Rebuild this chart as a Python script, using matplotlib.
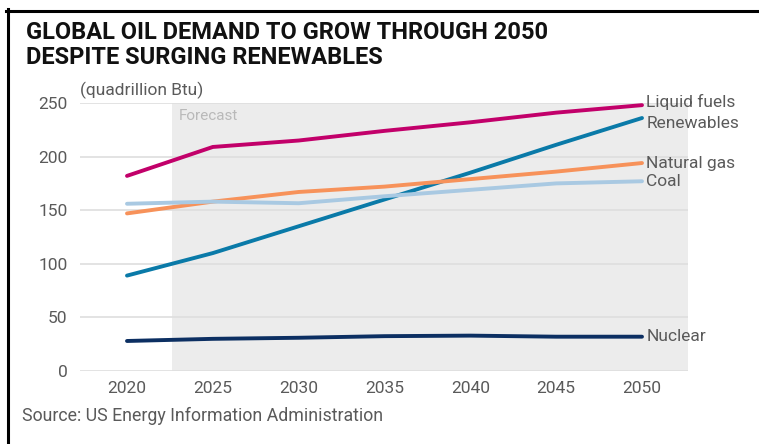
import matplotlib
matplotlib.use("Agg")
import matplotlib.pyplot as plt
from matplotlib.lines import Line2D

years = [2020, 2025, 2030, 2035, 2040, 2045, 2050]
liquid_fuels = [182, 209, 215, 224, 232, 241, 248]
renewables = [89, 110, 135, 160, 185, 211, 236]
natural_gas = [147, 158, 167, 172, 179, 186, 194]
coal = [156, 158, 156.5, 163, 169, 175, 177]
nuclear = [28, 30, 31, 32.5, 33, 32, 32]

series_names = ["Liquid fuels", "Renewables", "Natural gas", "Coal", "Nuclear"]
series_values = [liquid_fuels, renewables, natural_gas, coal, nuclear]
series_colors = ["#c2006a", "#0a7aa8", "#f7925a", "#a9c9e2", "#0c2f62"]
label_offsets = [2, -4, 0, 0, 0]

xticks = [2020, 2025, 2030, 2035, 2040, 2045, 2050]
yticks = [0, 50, 100, 150, 200, 250]
forecast_start = 2022.6

plt.rcParams['font.family'] = ['Roboto', 'DejaVu Sans']

W, H = 759, 444
fig = plt.figure(figsize=(W / 100, H / 100), dpi=100)
ax = fig.add_axes([80 / W, 1 - 371 / H, (688 - 80) / W, (371 - 103) / H])

xlim = (2020 - 47 / 17.17, 2050 + 46 / 17.17)
ax.set_xlim(*xlim)
ax.set_ylim(0, 250)

ax.axvspan(forecast_start, xlim[1], color="#ececec", zorder=0, lw=0)
for y in yticks:
    ax.axhline(y, color="#dedede", lw=1.2, zorder=1)

for name, vals, col, off in zip(series_names, series_values, series_colors, label_offsets):
    ax.plot(years, vals, color=col, lw=2.8, zorder=3, solid_capstyle="round")
    ax.annotate(name, xy=(years[-1], vals[-1]), xytext=(3, off), textcoords="offset points",
                ha="left", va="center", fontsize=12.5, color="#5a5a5a", annotation_clip=False)

ax.text(forecast_start + 0.4, 238, "Forecast", fontsize=11, color="#b9b9b9", va="center", ha="left")

ax.set_xticks(xticks)
ax.set_yticks(yticks)
ax.tick_params(length=0, labelsize=12.5, labelcolor="#5a5a5a", pad=7)
ax.tick_params(axis="y", pad=9)
for s in ax.spines.values():
    s.set_visible(False)

fig.text(26 / W, 1 - 39 / H, "GLOBAL OIL DEMAND TO GROW THROUGH 2050", fontsize=17, fontweight="bold",
         color="#111111", ha="left", va="baseline")
fig.text(26 / W, 1 - 64 / H, "DESPITE SURGING RENEWABLES", fontsize=17, fontweight="bold",
         color="#111111", ha="left", va="baseline")
fig.text(80 / W, 1 - 95 / H, "(quadrillion Btu)", fontsize=12.5, color="#5a5a5a", ha="left", va="baseline")
fig.text(22 / W, 1 - 421 / H, "Source: US Energy Information Administration", fontsize=12.8,
         color="#5a5a5a", ha="left", va="baseline")

fig.add_artist(Line2D([7.5 / W, 7.5 / W], [1 - 9.5 / H, 0], transform=fig.transFigure, color="black", lw=2.2))
fig.add_artist(Line2D([6 / W, 1], [1 - 11 / H, 1 - 11 / H], transform=fig.transFigure, color="black", lw=2.2))

fig.savefig("out.png", dpi=100)
